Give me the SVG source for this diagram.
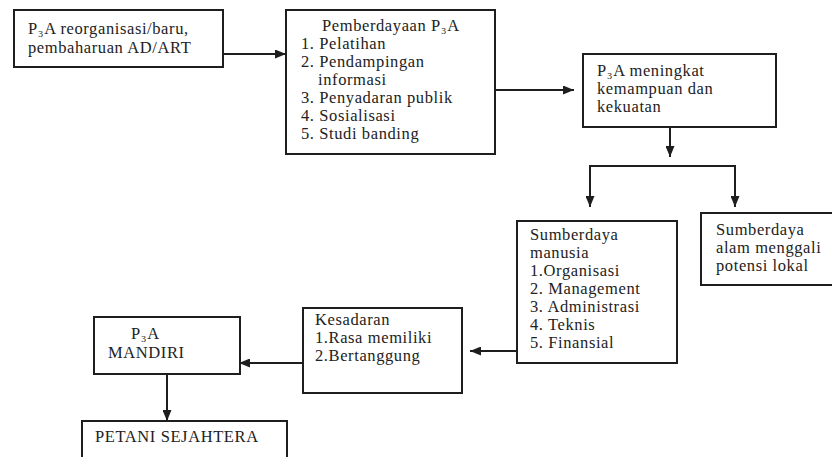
<svg xmlns="http://www.w3.org/2000/svg" width="832" height="457" viewBox="0 0 832 457">
<style>
  .box { fill: #ffffff; stroke: #1e1e1e; stroke-width: 2; }
  .t { font-family: 'Liberation Serif', Tinos, 'Times New Roman', Times, 'DejaVu Serif', serif; font-size: 16.5px; letter-spacing: 0.6px; fill: #222222; }
  .conn { fill: none; stroke: #1e1e1e; stroke-width: 2; }
</style>
<defs>
  <marker id="arrow" markerUnits="userSpaceOnUse" markerWidth="11" markerHeight="9" refX="11" refY="4.5" orient="auto">
    <path d="M0,0 L11,4.5 L0,9 z" fill="#1e1e1e"/>
  </marker>
</defs>
<rect width="832" height="457" fill="#ffffff"/>

<g id="n1">
  <rect class="box" x="14" y="10" width="209" height="57"/>
  <text class="t" x="28" y="34">P₃A reorganisasi/baru,</text>
  <text class="t" x="28" y="52.5">pembaharuan AD/ART</text>
</g>

<g id="n2">
  <rect class="box" x="286" y="10" width="209" height="144"/>
  <text class="t" x="322" y="30.5">Pemberdayaan P₃A</text>
  <text class="t" x="301" y="48.5">1. Pelatihan</text>
  <text class="t" x="301" y="66.5">2. Pendampingan</text>
  <text class="t" x="318" y="84.5">informasi</text>
  <text class="t" x="301" y="102.5">3. Penyadaran publik</text>
  <text class="t" x="301" y="120.5">4. Sosialisasi</text>
  <text class="t" x="301" y="138.5">5. Studi banding</text>
</g>

<g id="n3">
  <rect class="box" x="583" y="54" width="193" height="73"/>
  <text class="t" x="597" y="76">P₃A meningkat</text>
  <text class="t" x="597" y="94">kemampuan dan</text>
  <text class="t" x="597" y="112">kekuatan</text>
</g>

<g id="n4">
  <rect class="box" x="517" y="221" width="160" height="142"/>
  <text class="t" x="530" y="240">Sumberdaya</text>
  <text class="t" x="530" y="258">manusia</text>
  <text class="t" x="530" y="276">1.Organisasi</text>
  <text class="t" x="530" y="294">2. Management</text>
  <text class="t" x="530" y="312">3. Administrasi</text>
  <text class="t" x="530" y="330">4. Teknis</text>
  <text class="t" x="530" y="348">5. Finansial</text>
</g>

<g id="n5">
  <rect class="box" x="701" y="213" width="140" height="72"/>
  <text class="t" x="716" y="235">Sumberdaya</text>
  <text class="t" x="716" y="253">alam menggali</text>
  <text class="t" x="716" y="271">potensi lokal</text>
</g>

<g id="n6">
  <rect class="box" x="303" y="308" width="159" height="85"/>
  <text class="t" x="315" y="325">Kesadaran</text>
  <text class="t" x="315" y="343">1.Rasa memiliki</text>
  <text class="t" x="315" y="361">2.Bertanggung</text>
</g>

<g id="n7">
  <rect class="box" x="94" y="317" width="146" height="57"/>
  <text class="t" x="131" y="339">P₃A</text>
  <text class="t" x="108" y="358">MANDIRI</text>
</g>

<g id="n8">
  <rect class="box" x="82" y="421" width="205" height="50"/>
  <text class="t" x="95" y="442">PETANI SEJAHTERA</text>
</g>

<g id="connectors">
  <line class="conn" x1="223" y1="54" x2="286" y2="54" marker-end="url(#arrow)"/>
  <line class="conn" x1="495" y1="90" x2="574" y2="90" marker-end="url(#arrow)"/>
  <line class="conn" x1="670" y1="127" x2="670" y2="157" marker-end="url(#arrow)"/>
  <polyline class="conn" points="590,207 590,166 735,166 735,207"/>
  <line class="conn" x1="590" y1="190" x2="590" y2="207" marker-end="url(#arrow)"/>
  <line class="conn" x1="735" y1="190" x2="735" y2="207" marker-end="url(#arrow)"/>
  <line class="conn" x1="517" y1="351" x2="470" y2="351" marker-end="url(#arrow)"/>
  <line class="conn" x1="303" y1="363" x2="239" y2="363" marker-end="url(#arrow)"/>
  <line class="conn" x1="167" y1="374" x2="167" y2="421" marker-end="url(#arrow)"/>
</g>
</svg>
